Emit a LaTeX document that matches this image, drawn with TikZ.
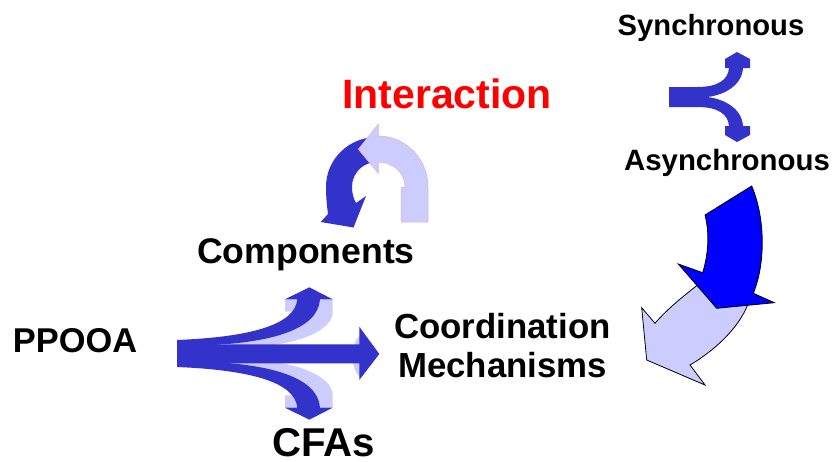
\documentclass[tikz,border=0pt]{standalone}
\usepackage{fontspec}
\setmainfont{Liberation Sans}
\definecolor{deepblue}{RGB}{51,51,204}
\definecolor{paleblue}{RGB}{204,204,255}
\definecolor{pureblue}{RGB}{0,0,255}
\definecolor{pinkedge}{RGB}{235,170,205}
\tikzset{
  lbl/.style={anchor=base, inner sep=0pt},
  sz/.style={font=\fontsize{#1}{#1}\selectfont\bfseries},
  darkfill/.style={fill=deepblue, draw=none},
  palefill/.style={fill=paleblue, draw=none},
  outlined/.style={draw=black, line width=0.8pt, line join=miter},
}
\begin{document}
\begin{tikzpicture}[x=1pt, y=-1pt]
\useasboundingbox (0,0) rectangle (836,461);

% ---------- labels ----------
\node[lbl, sz=29.2] (sync)   at (711,35)  {Synchronous};
\node[lbl, sz=29.4] (async)  at (727,170) {Asynchronous};
\node[lbl, sz=41, text=red] (inter) at (447,108) {Interaction};
\node[lbl, sz=35.6] (comp)   at (306,263) {Components};
\node[lbl, sz=34.4] (ppooa)  at (75,352)  {PPOOA};
\node[lbl, sz=34.8] (coord)  at (502.5,338) {Coordination};
\node[lbl, sz=34.8] (mech)   at (502.5,377) {Mechanisms};
\node[lbl, sz=40.2, text depth=0pt] (cfas) at (323.5,456) {CFAs};

% ---------- synchronous / asynchronous fork ----------
\fill[deepblue] (669,87) -- (697,87) .. controls (718,87) and (728,80) .. (729,68)
  -- (725,68) -- (725,59) -- (737,52) -- (750,59) -- (750,68) -- (743,68)
  .. controls (742,85) and (725,95) .. (707,97)
  .. controls (725,99) and (742,109) .. (743,126)
  -- (750,126) -- (750,135) -- (737,142) -- (725,135) -- (725,126) -- (729,126)
  .. controls (728,114) and (718,107) .. (697,107) -- (669,107) -- cycle;

% ---------- interaction: circular arrows ----------
\path[darkfill] (390,137) -- (377,137) .. controls (349,137) and (326,159) .. (326,187)
  .. controls (326,198) and (327,206) .. (328,214)
  -- (320.7,222) -- (353.5,227.5) -- (366,196) -- (356,203)
  .. controls (353,198) and (352,192) .. (352,187)
  .. controls (352,173) and (363,162) .. (377,162) -- (390,162) -- cycle;
\path[palefill, draw=pinkedge, line width=0.5pt] (401,222) -- (401,187) -- (405,187)
  .. controls (405,173) and (393,162) .. (378.3,162)
  -- (378.3,173.3) -- (358.3,149.3) -- (378.3,124) -- (378.3,136)
  .. controls (406,136) and (428,159) .. (428,187)
  -- (428,222) -- cycle;

% ---------- big curved arrows on the right ----------
\path[fill=paleblue, outlined] (700,283) .. controls (685,295) and (668,308) .. (655,323.3)
  -- (641.7,307.7) -- (646.7,360) -- (705,385) -- (690,365)
  .. controls (712,352) and (738,330) .. (748,304) -- cycle;
\path[fill=pureblue, outlined] (751.7,186) -- (705,215)
  .. controls (710,235) and (708,255) .. (702.7,272.7)
  -- (678.3,264) -- (716.7,308.3) -- (774.3,302.7) -- (753.3,293.3)
  .. controls (765,265) and (766,220) .. (751.7,186) -- cycle;

% ---------- PPOOA three-way arrow ----------
% pale undersides of the two branches
\path[palefill] (250,347) .. controls (300,345) and (332.7,330) .. (332.7,311.7)
  -- (332.7,299.3) -- (285,299.3) -- (285,311.7) -- (300,311.7)
  .. controls (295,330) and (260,340) .. (220,343) -- cycle;
\path[palefill] (250,360) .. controls (300,362) and (332.7,377) .. (332.7,395.3)
  -- (332.7,407.7) -- (285,407.7) -- (285,395.3) -- (300,395.3)
  .. controls (295,377) and (260,367) .. (220,364) -- cycle;
\path[palefill] (360,335) .. controls (350,345) and (350,368) .. (360,377) -- cycle;
% dark branches
\path[darkfill] (177,340) .. controls (250,337) and (295,325) .. (297.3,299.3)
  -- (285,299.3) -- (309.3,287.3) -- (332.7,299.3) -- (320,299.3)
  .. controls (318,330) and (270,342) .. (213,345) -- (177,345) -- cycle;
\path[darkfill] (177,367) .. controls (250,370) and (295,382) .. (297.3,407.7)
  -- (285,407.7) -- (309.3,419.7) -- (332.7,407.7) -- (320,407.7)
  .. controls (318,377) and (270,365) .. (213,362) -- (177,362) -- cycle;
% main shaft
\path[darkfill] (177,344.3) -- (359.3,344.3) -- (359.3,326.7) -- (379.3,354)
  -- (359.3,380) -- (359.3,363.3) -- (177,363.3) -- cycle;
\end{tikzpicture}
\end{document}
